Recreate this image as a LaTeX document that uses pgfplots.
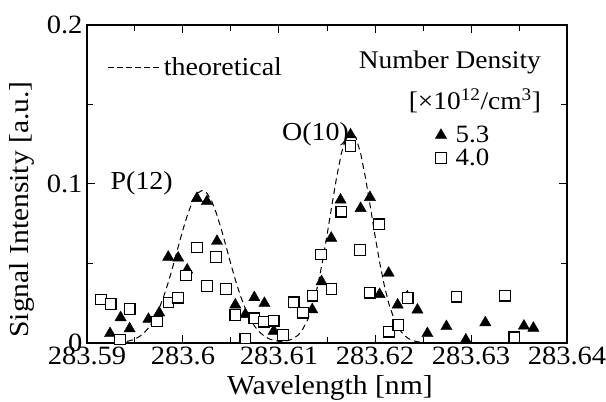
\documentclass[border=0pt]{standalone}
\usepackage{fontspec}
\setmainfont{Liberation Serif}[FakeStretch=1.08]
\usepackage{pgfplots}
\pgfplotsset{compat=1.18}
% x values are (wavelength - 283.59 nm) x 1000, i.e. in pm from 283.59 nm
\pgfplotstableread{
x y
2.40 0.0060
3.50 0.0160
4.44 0.0090
6.40 0.0150
7.52 0.0190
8.46 0.0540
9.50 0.0535
10.44 0.0460
11.45 0.0910
12.49 0.0890
13.54 0.0640
15.45 0.0240
16.49 0.0180
17.43 0.0286
18.48 0.0250
19.45 0.0075
23.46 0.0210
24.43 0.0386
25.44 0.0660
26.41 0.0900
27.45 0.1310
28.50 0.0847
29.47 0.0916
30.48 0.0306
31.42 0.0440
32.36 0.0240
33.37 0.0290
34.42 0.0208
35.46 0.0060
37.44 0.0104
39.46 0.0020
41.49 0.0128
45.51 0.0107
46.50 0.0094
}\dataA
\pgfplotstableread{
x y
1.46 0.0274
2.47 0.0245
3.44 0.0022
4.44 0.0214
7.31 0.0135
8.49 0.0255
9.50 0.0285
10.33 0.0425
11.45 0.0600
12.49 0.0358
13.43 0.0540
14.48 0.0340
15.45 0.0176
16.49 0.0028
17.43 0.0155
18.40 0.0134
19.45 0.0140
20.41 0.0050
21.53 0.0256
22.52 0.0190
23.49 0.0297
24.37 0.0557
25.47 0.0340
26.48 0.0826
27.45 0.1240
28.42 0.0585
29.44 0.0316
30.41 0.0747
31.45 0.0071
32.43 0.0113
33.40 0.0283
38.49 0.0291
43.53 0.0297
44.50 0.0036
}\dataB
\pgfplotstableread{
x y
0 0
2 0.0001
3 0.0002
4 0.0008
4.5 0.0015
5 0.0025
5.5 0.0042
6 0.0067
6.5 0.0102
7 0.0151
7.5 0.0215
8 0.0294
8.5 0.0388
9 0.0493
9.5 0.0605
10 0.0714
10.5 0.0812
11 0.0892
11.5 0.0942
12 0.0960
12.5 0.0942
13 0.0892
13.5 0.0812
14 0.0714
14.5 0.0605
15 0.0493
15.5 0.0388
16 0.0294
16.5 0.0215
17 0.0151
17.5 0.0102
18 0.0067
18.5 0.0042
19 0.0025
19.5 0.0016
20 0.0011
20.5 0.0011
21 0.0016
21.5 0.0028
22 0.0050
22.5 0.0089
23 0.0149
23.5 0.0235
24 0.0353
24.5 0.0502
25 0.0676
25.5 0.0863
26 0.1042
26.5 0.1194
27 0.1294
27.5 0.1330
28 0.1294
28.5 0.1194
29 0.1042
29.5 0.0863
30 0.0676
30.5 0.0502
31 0.0353
31.5 0.0235
32 0.0149
32.5 0.0089
33 0.0050
33.5 0.0027
34 0.0014
34.5 0.0007
35.5 0.0001
50 0
}\theory
\begin{document}
\begin{tikzpicture}
\begin{axis}[
  at={(0,0)}, anchor=south west,
  scale only axis, width=480bp, height=318bp,
  xmin=0, xmax=50, ymin=0, ymax=0.2,
  xtick={0,10,20,30,40,50},
  xticklabels={283.59,283.6,283.61,283.62,283.63,283.64},
  minor xtick={5,15,25,35,45},
  ytick={0,0.1,0.2}, yticklabels={0,0.1,0.2},
  minor ytick={0.05,0.15},
  tick align=inside, major tick length=8bp, minor tick length=6bp,
  every tick/.style={line width=1bp, black},
  axis line style={line width=1.3bp},
  ticklabel style={font=\fontsize{26.5}{26.5}\selectfont},
  yticklabel style={xshift=-1bp},
  xlabel={Wavelength [nm]}, ylabel={Signal Intensity [a.u.]},
  label style={font=\fontsize{27.5}{27.5}\selectfont},
  x label style={at={(axis description cs:0.506,-0.1415)}, anchor=center},
  y label style={at={(axis description cs:-0.135,0.42)}, anchor=center},
  legend style={at={(rel axis cs:0.715,0.695)}, anchor=north west, draw=none, fill=none,
    font=\fontsize{25}{25}\selectfont, row sep=1bp},
  legend image code/.code={\draw[#1] plot coordinates {(0bp,0bp)}; \path (-7bp,0bp) (12bp,0bp);},
  legend cell align=left,
  clip=false,
]
\addplot[black, line width=1bp, dash pattern=on 6bp off 4bp, forget plot] table {\theory};
\addplot[only marks, mark=triangle*, mark size=6.5bp, black] table {\dataA};
\addlegendentry{5.3}
\addplot[only marks, mark=square*, mark size=5.3bp, draw=black, fill=white, line width=1.2bp] table {\dataB};
\addlegendentry{4.0}
\node[anchor=center, font=\fontsize{26}{26}\selectfont] at (axis cs:5.7,0.1006) {P(12)};
\node[anchor=center, font=\fontsize{26}{26}\selectfont] at (axis cs:23.8,0.131) {O(10)};
\node[anchor=east, font=\fontsize{25.5}{25.5}\selectfont] at (rel axis cs:0.953,0.881) {Number Density};
\node[anchor=east, font=\fontsize{25.5}{25.5}\selectfont] at (rel axis cs:0.953,0.761) {[×10\textsuperscript{12}/cm\textsuperscript{3}]};
\end{axis}
\begin{axis}[
  at={(0,0)}, anchor=south west,
  scale only axis, width=480bp, height=318bp,
  xmin=0, xmax=50, ymin=0, ymax=0.2, hide axis,
  legend style={at={(rel axis cs:0.037,0.91)}, anchor=north west, draw=none, fill=none,
    font=\fontsize{26}{26}\selectfont},
  legend image code/.code={\draw[#1] (0bp,0bp) -- (53bp,0bp);},
]
\addlegendimage{black, line width=1bp, dash pattern=on 6bp off 3bp}
\addlegendentry{theoretical}
\end{axis}
\pgfresetboundingbox
\path (-87bp,-59bp) rectangle (519bp,343bp);
\end{tikzpicture}
\end{document}
